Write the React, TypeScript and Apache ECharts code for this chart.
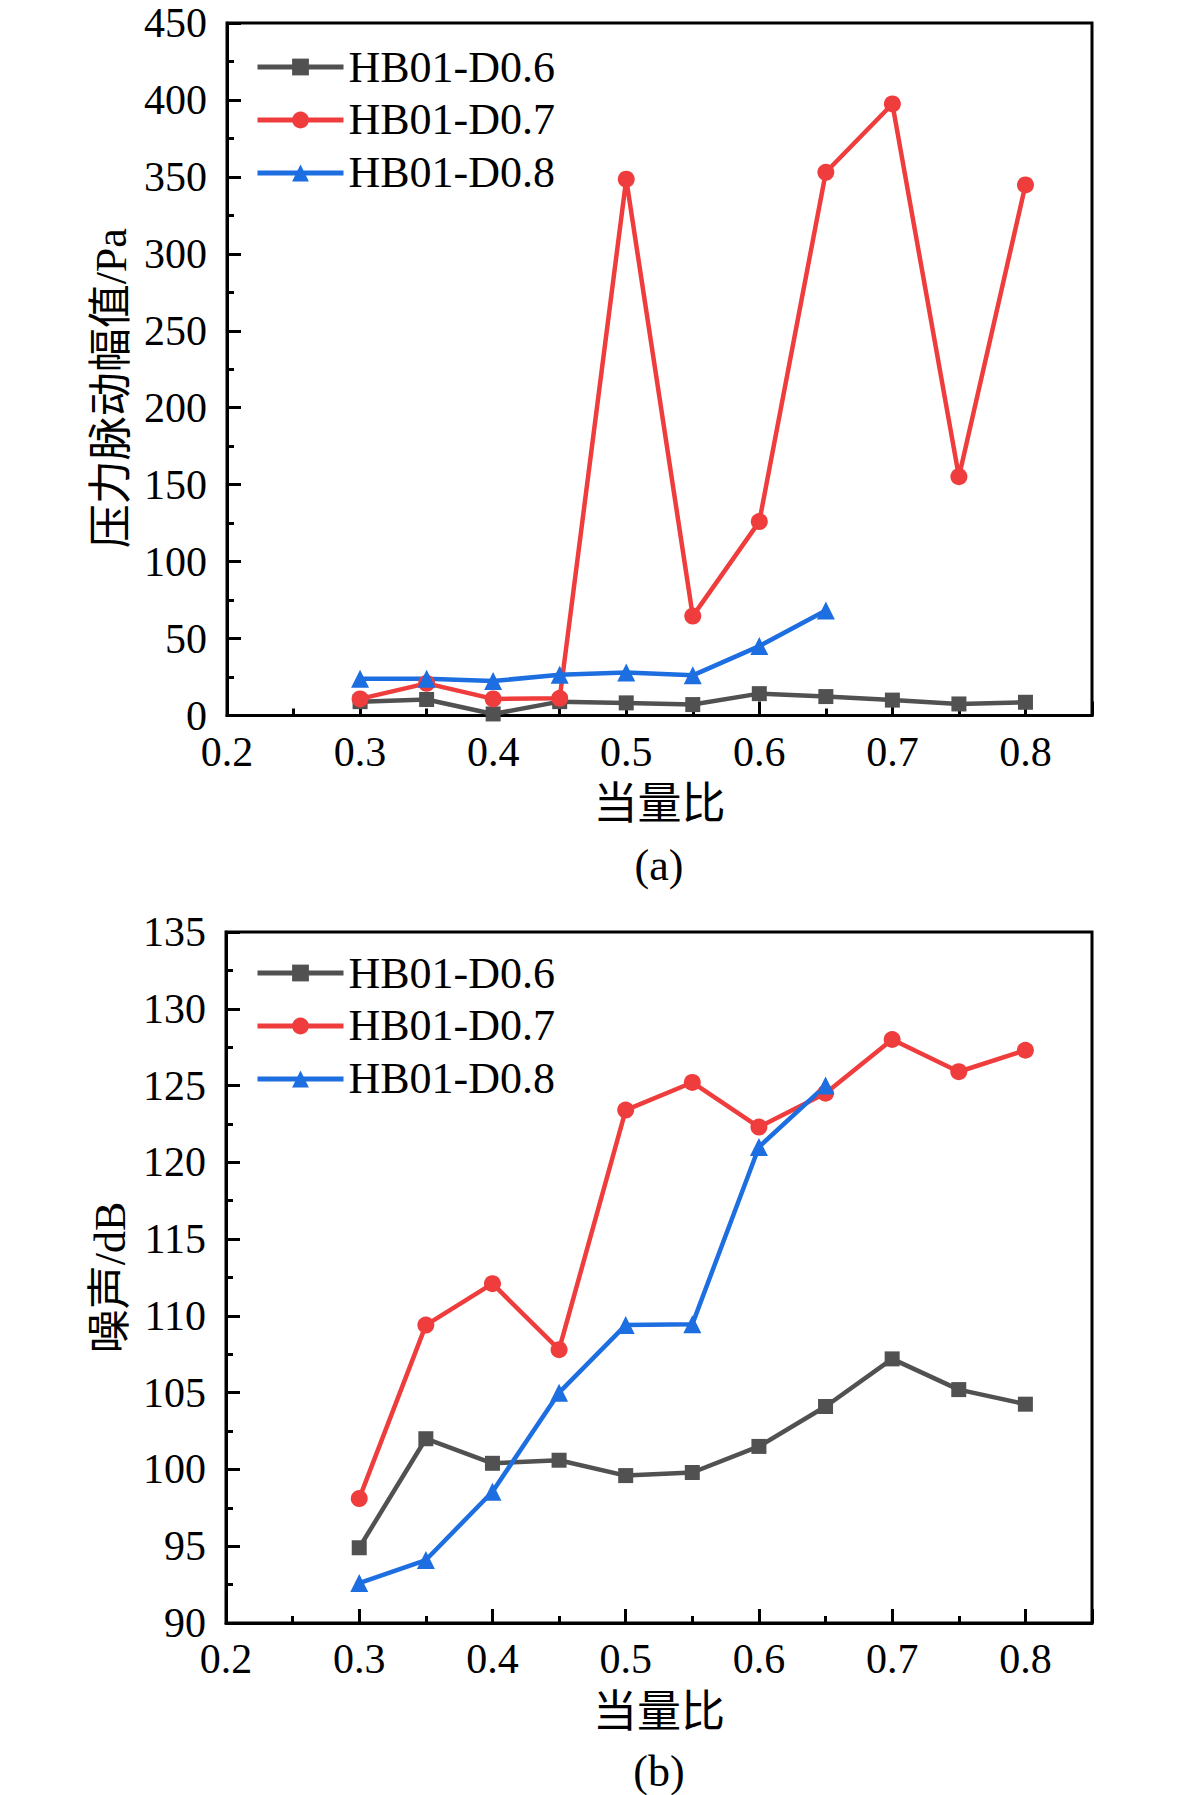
import { useEffect, useRef } from "react";
import * as echarts from "echarts";

const phi = [0.3, 0.35, 0.4, 0.45, 0.5, 0.55, 0.6, 0.65, 0.7, 0.75, 0.8];
const seriesNames = ["HB01-D0.6", "HB01-D0.7", "HB01-D0.8"];
const seriesColors = ["#515151", "#ef3d3d", "#1d6ee0"];
const seriesSymbols = ["rect", "circle", "triangle"];
const symbolSizes = [15, 17, 18];

// (a) pressure pulsation amplitude, Pa
const pressureD06 = [9, 10.4, 1, 9, 8.2, 7.1, 14.2, 12.3, 10, 7.5, 8.6];
const pressureD07 = [10.8, 20.9, 10.8, 11.2, 348.5, 64.6, 126, 353, 397.4, 155.2, 344.8];
const pressureD08 = [23.9, 23.9, 22.4, 26.5, 28, 26.1, 45.1, 68.3];

// (b) noise, dB
const noiseD06 = [94.9, 102, 100.4, 100.6, 99.6, 99.8, 101.5, 104.1, 107.2, 105.2, 104.25];
const noiseD07 = [98.1, 109.4, 112.1, 107.8, 123.4, 125.2, 122.3, 124.5, 128, 125.9, 127.3];
const noiseD08 = [92.6, 94.1, 98.55, 105, 109.4, 109.45, 121, 125];

const SERIF = "'Liberation Serif', 'Times New Roman', 'Noto Sans CJK SC', serif";

const pairs = (ys: number[]) => ys.map((y, i) => [phi[i], y]);

function xLabel(value: number) {
  const tenth = value * 10;
  return Math.abs(tenth - Math.round(tenth)) < 1e-6 ? value.toFixed(1) : "";
}

export default function App() {
  const ref = useRef<HTMLDivElement | null>(null);

  useEffect(() => {
    if (!ref.current) return;
    const chart = echarts.init(ref.current, undefined, { renderer: "svg" });

    const axisLine = { show: true, onZero: false, lineStyle: { color: "#000", width: 3 } };
    const labelStyle = { color: "#000", fontSize: 42, fontFamily: SERIF };
    const nameStyle = { color: "#000", fontSize: 44, fontFamily: SERIF };

    const xAxes = (gridIndex: number) => [
      {
        type: "value",
        gridIndex,
        position: "bottom",
        min: 0.2,
        max: 0.85,
        interval: 0.05,
        axisLine,
        axisTick: { show: true, inside: true, length: 7, lineStyle: { color: "#000", width: 3 } },
        axisLabel: { ...labelStyle, margin: 15, formatter: xLabel, showMaxLabel: false },
        splitLine: { show: false },
        name: "当量比",
        nameLocation: "middle",
        nameGap: 67,
        nameTextStyle: nameStyle,
      },
      {
        type: "value",
        gridIndex,
        position: "bottom",
        min: 0.2,
        max: 0.85,
        interval: 0.1,
        axisLine: { show: false, onZero: false },
        axisTick: { show: true, inside: true, length: 14, lineStyle: { color: "#000", width: 3 } },
        axisLabel: { show: false },
        splitLine: { show: false },
      },
    ];

    const yAxis = (gridIndex: number, min: number, max: number, interval: number, name: string, shift: number) => ({
      type: "value",
      gridIndex,
      min,
      max,
      interval,
      axisLine,
      axisTick: { show: true, inside: true, length: 14, lineStyle: { color: "#000", width: 3 } },
      minorTick: { show: true, splitNumber: 2, length: 7, lineStyle: { color: "#000", width: 3 } },
      axisLabel: { ...labelStyle, margin: 20 },
      splitLine: { show: false },
      name,
      nameLocation: "middle",
      nameGap: 93,
      nameTextStyle: { ...nameStyle, padding: [0, shift, 0, 0] },
    });

    const makeSeries = (data: number[][], k: number, xAxisIndex: number, yAxisIndex: number) => ({
      name: seriesNames[k],
      type: "line",
      xAxisIndex,
      yAxisIndex,
      data,
      symbol: seriesSymbols[k],
      symbolSize: symbolSizes[k],
      color: seriesColors[k],
      itemStyle: { color: seriesColors[k] },
      lineStyle: { color: seriesColors[k], width: 4.5 },
    });

    const legend = (top: number) => ({
      orient: "vertical",
      left: 255,
      top,
      padding: 0,
      itemGap: 9,
      itemWidth: 86,
      itemHeight: 21,
      selectedMode: false,
      data: seriesNames,
      lineStyle: { width: 5 },
      textStyle: { color: "#000", fontSize: 44, fontFamily: SERIF },
    });

    const frame = { show: true, borderColor: "#000", borderWidth: 3, backgroundColor: "transparent" };

    chart.setOption({
      animation: false,
      backgroundColor: "#fff",
      title: [
        { text: "(a)", left: 659, top: 843, textAlign: "center", padding: 0, textStyle: { ...nameStyle, fontWeight: "normal" } },
        { text: "(b)", left: 659, top: 1749, textAlign: "center", padding: 0, textStyle: { ...nameStyle, fontWeight: "normal" } },
      ],
      legend: [legend(45), legend(951)],
      grid: [
        { left: 227, top: 23, width: 865, height: 692.5, ...frame },
        { left: 226, top: 932, width: 866, height: 691, ...frame },
      ],
      xAxis: [...xAxes(0), ...xAxes(1)],
      yAxis: [
        yAxis(0, 0, 450, 50, "压力脉动幅值/Pa", 38),
        yAxis(1, 90, 135, 5, "噪声/dB", 0),
      ],
      series: [
        makeSeries(pairs(pressureD06), 0, 0, 0),
        makeSeries(pairs(pressureD07), 1, 0, 0),
        makeSeries(pairs(pressureD08), 2, 0, 0),
        makeSeries(pairs(noiseD06), 0, 2, 1),
        makeSeries(pairs(noiseD07), 1, 2, 1),
        makeSeries(pairs(noiseD08), 2, 2, 1),
      ],
    });

    return () => chart.dispose();
  }, []);

  return <div ref={ref} style={{ position: "absolute", left: 0, top: 0, width: 1181, height: 1795 }} />;
}
